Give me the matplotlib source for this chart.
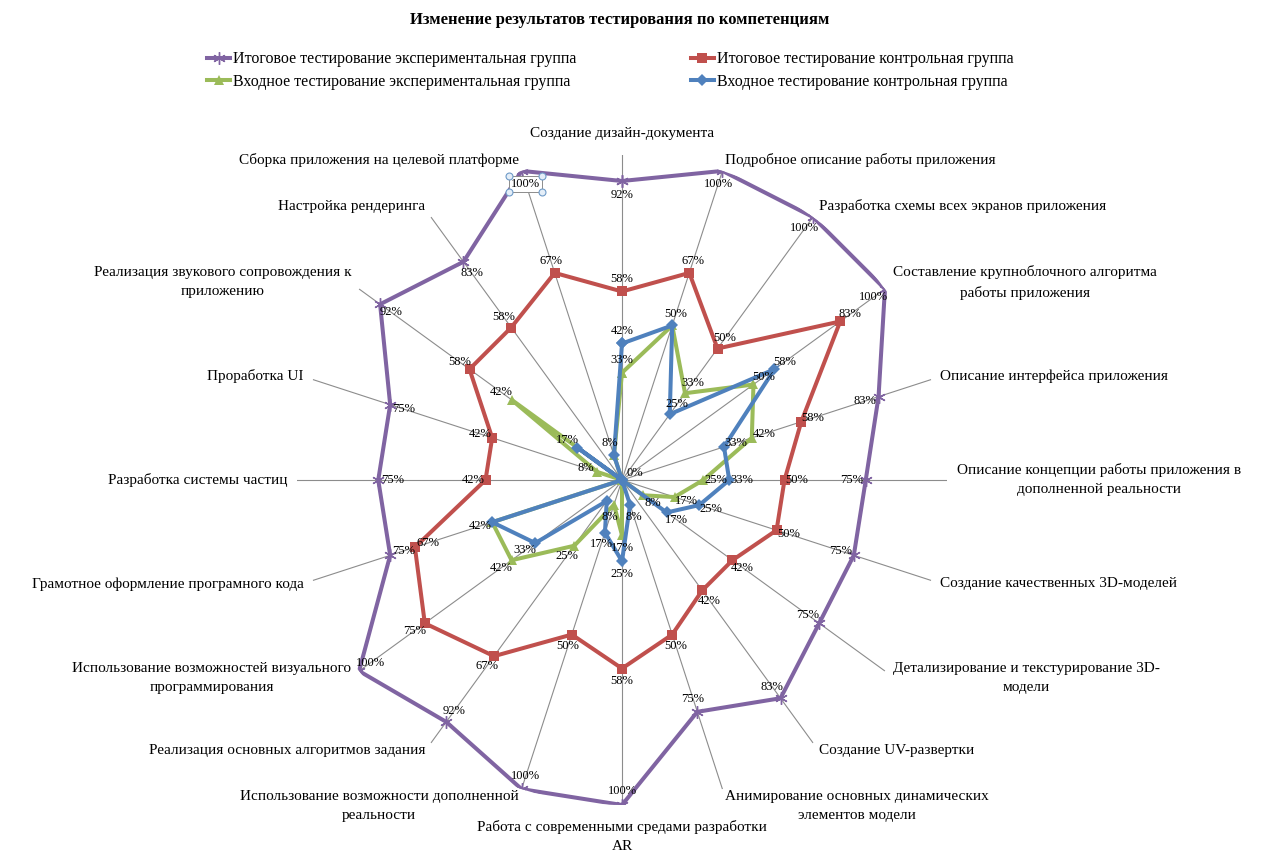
import numpy as np
import matplotlib.pyplot as plt
from matplotlib.lines import Line2D
from matplotlib.transforms import IdentityTransform

plt.rcParams['font.family'] = ['Liberation Serif', 'DejaVu Serif']

categories = [
    "Создание дизайн-документа",
    "Подробное описание работы приложения",
    "Разработка схемы всех экранов приложения",
    "Составление крупноблочного алгоритма\nработы приложения",
    "Описание интерфейса приложения",
    "Описание концепции работы приложения в\nдополненной реальности",
    "Создание качественных 3D-моделей",
    "Детализирование и текстурирование 3D-\nмодели",
    "Создание UV-развертки",
    "Анимирование основных динамических\nэлементов модели",
    "Работа с современными средами разработки\nAR",
    "Использование возможности дополненной\nреальности",
    "Реализация основных алгоритмов задания",
    "Использование возможностей визуального\nпрограммирования",
    "Грамотное оформление програмного кода",
    "Разработка системы частиц",
    "Проработка UI",
    "Реализация звукового сопровождения к\nприложению",
    "Настройка рендеринга",
    "Сборка приложения на целевой платформе",
]

final_exp = [92, 100, 100, 100, 83, 75, 75, 75, 83, 75, 100, 100, 92, 100, 75, 75, 75, 92, 83, 100]
final_ctrl = [58, 67, 50, 83, 58, 50, 50, 42, 42, 50, 58, 50, 67, 75, 67, 42, 42, 58, 58, 67]
entry_exp = [33, 50, 33, 50, 42, 25, 17, 8, 0, 0, 17, 8, 25, 42, 42, 0, 8, 42, 0, 8]
entry_ctrl = [42, 50, 25, 58, 33, 33, 25, 17, 0, 8, 25, 17, 8, 33, 42, 0, 0, 17, 0, 8]

series_names = [
    "Итоговое тестирование экспериментальная группа",
    "Итоговое тестирование контрольная группа",
    "Входное тестирование экспериментальная группа",
    "Входное тестирование контрольная группа",
]

n = len(categories)
theta = np.arange(n) * 2 * np.pi / n

fig = plt.figure(figsize=(12.64, 8.52), dpi=100)
ax = fig.add_axes([297 / 1264, 47 / 852, 650 / 1264, 650 / 852], projection='polar')
ax.set_theta_zero_location('N')
ax.set_theta_direction(-1)
ax.set_ylim(0, 100)
ax.set_yticks([])
ax.set_xticks(theta)
ax.set_xticklabels([])
ax.xaxis.grid(True, color='#8c8c8c', lw=0.8)
ax.spines['polar'].set_visible(False)
ax.set_facecolor('none')

styles = [
    dict(color='#8064A2', marker=(6, 2, 0), ms=9, mew=1.0),
    dict(color='#C0504D', marker='s', ms=7.5, mew=0),
    dict(color='#9BBB59', marker='^', ms=7.5, mew=0),
    dict(color='#4F81BD', marker='D', ms=6.5, mew=0),
]
all_data = [final_exp, final_ctrl, entry_exp, entry_ctrl]

handles = []
placed = []  # (text, x_px, y_px) of data labels already drawn
sel_label = None
for i, (vals, st) in enumerate(zip(all_data, styles)):
    v = np.array(vals + vals[:1])
    t = np.concatenate([theta, theta[:1]])
    h, = ax.plot(t, v, lw=2.9, label=series_names[i], zorder=3 + i,
                 solid_joinstyle='miter', **st)
    handles.append(h)
    # data labels
    for k, (th, val) in enumerate(zip(theta, vals)):
        if val == 0:
            ox, oy = 9, 5
        else:
            if i == 0:
                d = -10
            elif i == 1 and final_exp[k] - val < 15:
                d = -10
            else:
                d = 9
            ox, oy = d * np.sin(th), d * np.cos(th)
        px, py = ax.transData.transform((th, val))
        px, py = px + ox * 100 / 72, py + oy * 100 / 72
        txt = f"{val}%"
        if any(tt == txt and abs(px - qx) < 16 and abs(py - qy) < 12
               for tt, qx, qy in placed):
            continue
        placed.append((txt, px, py))
        a = ax.annotate(txt, xy=(th, val), xytext=(ox, oy),
                        textcoords='offset points', ha='center', va='center',
                        fontsize=9, zorder=10)
        if i == 0 and k == n - 1:
            sel_label = a

# selection frame around one label (as in the source screenshot)
sel_label.set_bbox(dict(boxstyle='square,pad=0.15', fc='white', ec='#8c8c8c', lw=0.7))
fig.canvas.draw()
bb = sel_label.get_bbox_patch().get_window_extent(fig.canvas.get_renderer())
fig.add_artist(Line2D([bb.x0, bb.x1, bb.x0, bb.x1], [bb.y0, bb.y0, bb.y1, bb.y1],
                      transform=IdentityTransform(), ls='none', marker='o', ms=5,
                      mfc='#e4eef8', mec='#6f9bc8', mew=0.8, zorder=20))

# category labels
for th, cat in zip(theta, categories):
    s, c = np.sin(th), np.cos(th)
    if s > 0.1:
        ha = 'left'
    elif s < -0.1:
        ha = 'right'
    else:
        ha = 'center'
    if c > 0.7:
        va = 'bottom'
        oy = 11 if ha == 'center' else 3
    elif c < -0.7:
        va = 'top'
        oy = -11 if ha == 'center' else -1
    else:
        va = 'center'
        oy = 8 * c
    ax.annotate(cat, xy=(th, 100), xytext=(7 * s, oy),
                textcoords='offset points', ha=ha, va=va, linespacing=1.6,
                multialignment='center', fontsize=11, annotation_clip=False)

fig.text(0.49, 1 - 20 / 852, "Изменение результатов тестирования по компетенциям",
         ha='center', va='center', fontsize=12, fontweight='bold')

fig.legend([handles[0], handles[2], handles[1], handles[3]],
           [series_names[0], series_names[2], series_names[1], series_names[3]],
           loc='upper left', bbox_to_anchor=(193 / 1264, 1 - 37 / 852),
           ncol=2, frameon=False, fontsize=11.5, handlelength=1.4,
           handletextpad=0.2, columnspacing=7.2, labelspacing=0.4)

fig.savefig('out.png', dpi=100)
